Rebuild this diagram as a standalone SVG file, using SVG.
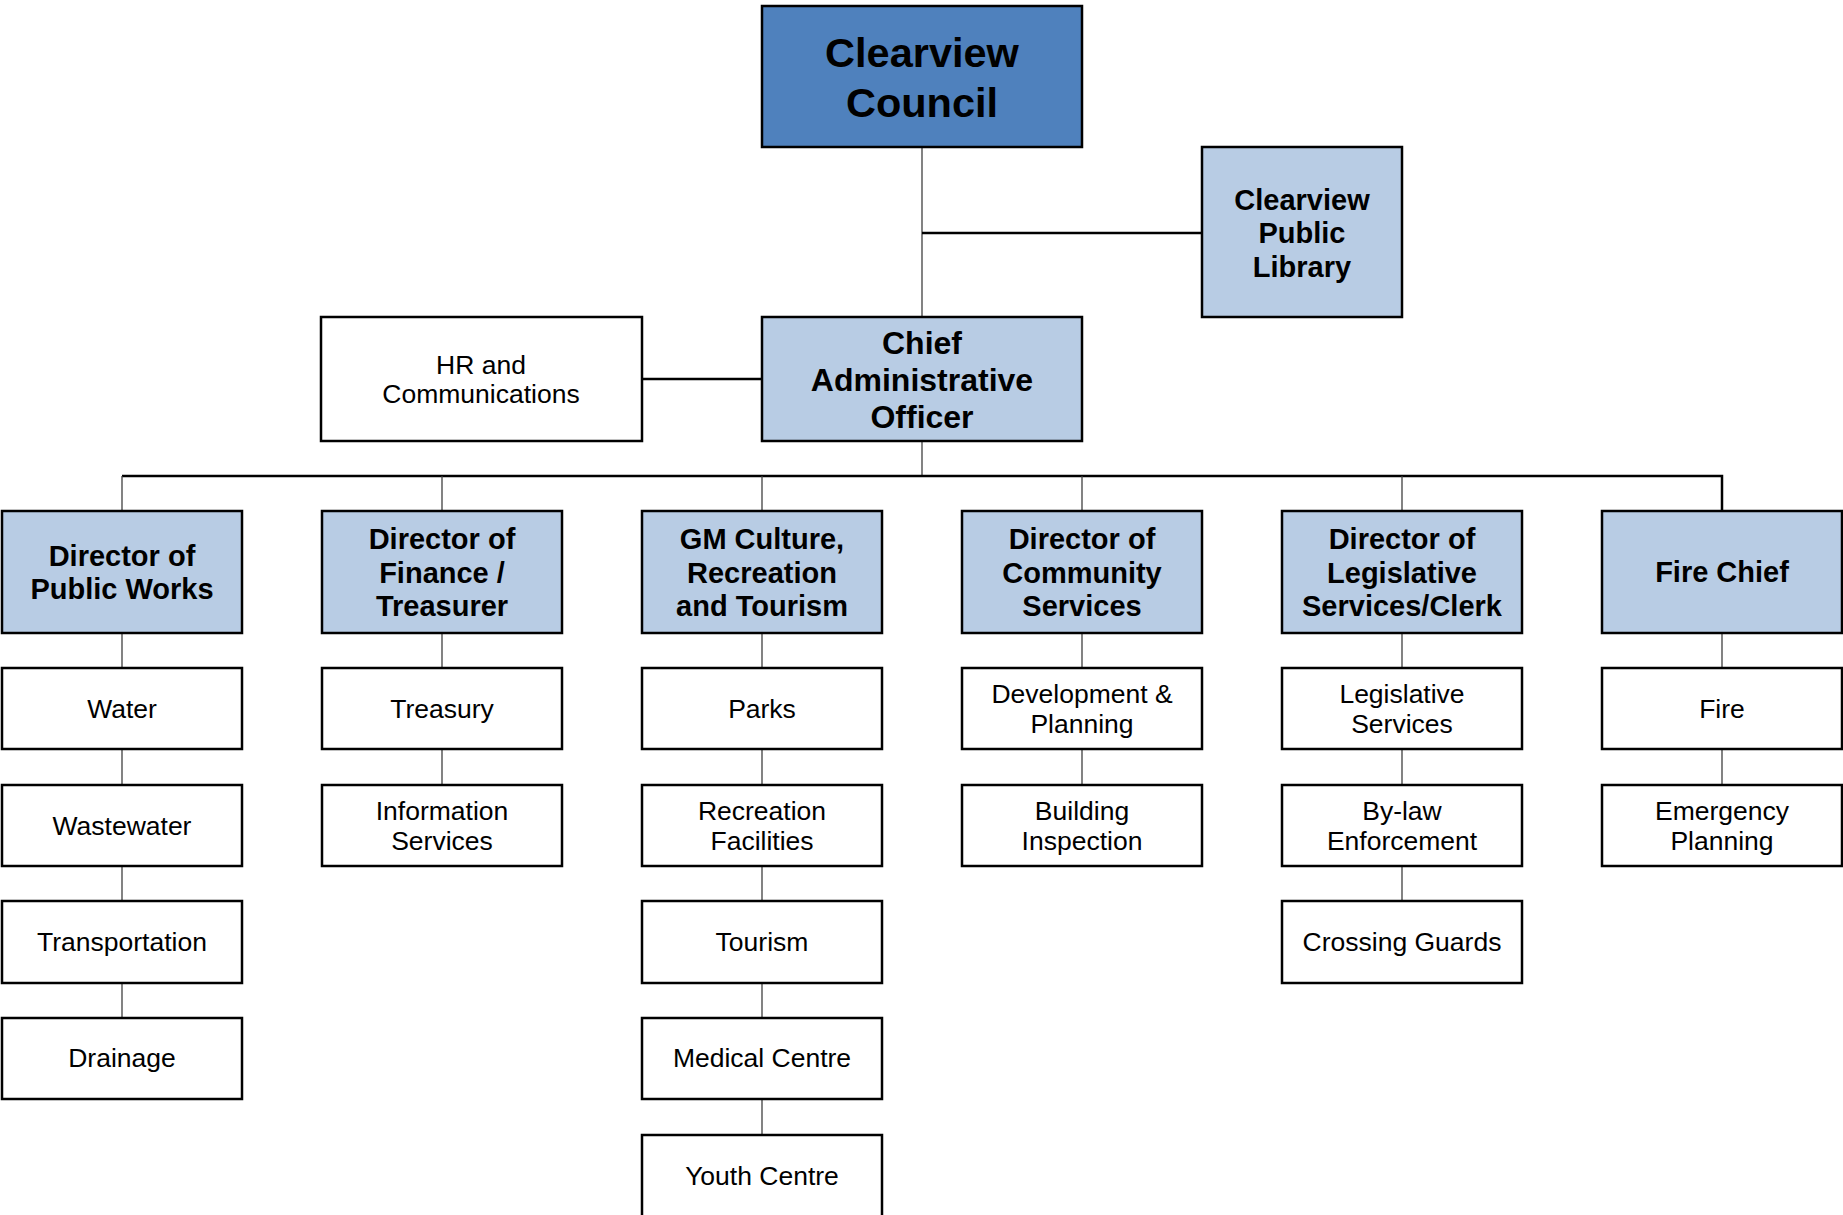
<svg xmlns="http://www.w3.org/2000/svg" width="1843" height="1215" viewBox="0 0 1843 1215">
<style>
  .box { stroke: #000; stroke-width: 2.5; }
  .dark { fill: #4F81BD; }
  .light { fill: #B8CCE4; }
  .plain { fill: #FFFFFF; }
  text { font-family: "Liberation Sans", Arial, sans-serif; fill: #000; text-anchor: middle; }
  .b { font-weight: bold; font-size: 29px; }
  .r { font-size: 26.5px; }
  .thin { stroke: #404040; stroke-width: 1.3; fill: none; }
  .thick { stroke: #000; stroke-width: 2.5; fill: none; }
</style>
<rect x="0" y="0" width="1843" height="1215" fill="#FFFFFF"/>
<g id="connectors">
  <line class="thin" x1="922" y1="147" x2="922" y2="317"/>
  <line class="thick" x1="922" y1="233" x2="1202" y2="233"/>
  <line class="thick" x1="642" y1="379" x2="762" y2="379"/>
  <line class="thin" x1="922" y1="441" x2="922" y2="476"/>
  <polyline class="thick" points="122,476 1722,476 1722,511"/>
  <line class="thin" x1="122" y1="476" x2="122" y2="511"/>
  <line class="thin" x1="442" y1="476" x2="442" y2="511"/>
  <line class="thin" x1="762" y1="476" x2="762" y2="511"/>
  <line class="thin" x1="1082" y1="476" x2="1082" y2="511"/>
  <line class="thin" x1="1402" y1="476" x2="1402" y2="511"/>
  <line class="thin" x1="122" y1="633" x2="122" y2="1018"/>
  <line class="thin" x1="442" y1="633" x2="442" y2="785"/>
  <line class="thin" x1="762" y1="633" x2="762" y2="1135"/>
  <line class="thin" x1="1082" y1="633" x2="1082" y2="785"/>
  <line class="thin" x1="1402" y1="633" x2="1402" y2="901"/>
  <line class="thin" x1="1722" y1="633" x2="1722" y2="785"/>
</g>
<g id="council">
  <rect class="box dark" x="762" y="6" width="320" height="141"/>
  <text x="922" y="67" font-size="41.5" font-weight="bold">Clearview</text>
  <text x="922" y="117" font-size="41.5" font-weight="bold">Council</text>
</g>
<g id="library">
  <rect class="box light" x="1202" y="147" width="200" height="170"/>
  <text class="b" x="1302" y="210">Clearview</text>
  <text class="b" x="1302" y="243">Public</text>
  <text class="b" x="1302" y="277">Library</text>
</g>
<g id="hr">
  <rect class="box plain" x="321" y="317" width="321" height="124"/>
  <text class="r" x="481" y="374">HR and</text>
  <text class="r" x="481" y="403">Communications</text>
</g>
<g id="cao">
  <rect class="box light" x="762" y="317" width="320" height="124"/>
  <text x="922" y="354" font-size="32" font-weight="bold">Chief</text>
  <text x="922" y="391" font-size="32" font-weight="bold">Administrative</text>
  <text x="922" y="428" font-size="32" font-weight="bold">Officer</text>
</g>
<g id="dir-public-works">
  <rect class="box light" x="2" y="511" width="240" height="122"/>
  <text class="b" x="122" y="566">Director of</text>
  <text class="b" x="122" y="599">Public Works</text>
</g>
<g id="dir-finance">
  <rect class="box light" x="322" y="511" width="240" height="122"/>
  <text class="b" x="442" y="549">Director of</text>
  <text class="b" x="442" y="583">Finance /</text>
  <text class="b" x="442" y="616">Treasurer</text>
</g>
<g id="gm-culture">
  <rect class="box light" x="642" y="511" width="240" height="122"/>
  <text class="b" x="762" y="549">GM Culture,</text>
  <text class="b" x="762" y="583">Recreation</text>
  <text class="b" x="762" y="616">and Tourism</text>
</g>
<g id="dir-community">
  <rect class="box light" x="962" y="511" width="240" height="122"/>
  <text class="b" x="1082" y="549">Director of</text>
  <text class="b" x="1082" y="583">Community</text>
  <text class="b" x="1082" y="616">Services</text>
</g>
<g id="dir-legislative">
  <rect class="box light" x="1282" y="511" width="240" height="122"/>
  <text class="b" x="1402" y="549">Director of</text>
  <text class="b" x="1402" y="583">Legislative</text>
  <text class="b" x="1402" y="616">Services/Clerk</text>
</g>
<g id="fire-chief">
  <rect class="box light" x="1602" y="511" width="240" height="122"/>
  <text class="b" x="1722" y="582">Fire Chief</text>
</g>
<g id="water">
  <rect class="box plain" x="2" y="668" width="240" height="81"/>
  <text class="r" x="122" y="718">Water</text>
</g>
<g id="wastewater">
  <rect class="box plain" x="2" y="785" width="240" height="81"/>
  <text class="r" x="122" y="835">Wastewater</text>
</g>
<g id="transportation">
  <rect class="box plain" x="2" y="901" width="240" height="82"/>
  <text class="r" x="122" y="951">Transportation</text>
</g>
<g id="drainage">
  <rect class="box plain" x="2" y="1018" width="240" height="81"/>
  <text class="r" x="122" y="1067">Drainage</text>
</g>
<g id="treasury">
  <rect class="box plain" x="322" y="668" width="240" height="81"/>
  <text class="r" x="442" y="718">Treasury</text>
</g>
<g id="information-services">
  <rect class="box plain" x="322" y="785" width="240" height="81"/>
  <text class="r" x="442" y="820">Information</text>
  <text class="r" x="442" y="850">Services</text>
</g>
<g id="parks">
  <rect class="box plain" x="642" y="668" width="240" height="81"/>
  <text class="r" x="762" y="718">Parks</text>
</g>
<g id="recreation-facilities">
  <rect class="box plain" x="642" y="785" width="240" height="81"/>
  <text class="r" x="762" y="820">Recreation</text>
  <text class="r" x="762" y="850">Facilities</text>
</g>
<g id="tourism">
  <rect class="box plain" x="642" y="901" width="240" height="82"/>
  <text class="r" x="762" y="951">Tourism</text>
</g>
<g id="medical-centre">
  <rect class="box plain" x="642" y="1018" width="240" height="81"/>
  <text class="r" x="762" y="1067">Medical Centre</text>
</g>
<g id="youth-centre">
  <rect class="box plain" x="642" y="1135" width="240" height="82"/>
  <text class="r" x="762" y="1185">Youth Centre</text>
</g>
<g id="development-planning">
  <rect class="box plain" x="962" y="668" width="240" height="81"/>
  <text class="r" x="1082" y="703">Development &amp;</text>
  <text class="r" x="1082" y="733">Planning</text>
</g>
<g id="building-inspection">
  <rect class="box plain" x="962" y="785" width="240" height="81"/>
  <text class="r" x="1082" y="820">Building</text>
  <text class="r" x="1082" y="850">Inspection</text>
</g>
<g id="legislative-services">
  <rect class="box plain" x="1282" y="668" width="240" height="81"/>
  <text class="r" x="1402" y="703">Legislative</text>
  <text class="r" x="1402" y="733">Services</text>
</g>
<g id="bylaw">
  <rect class="box plain" x="1282" y="785" width="240" height="81"/>
  <text class="r" x="1402" y="820">By-law</text>
  <text class="r" x="1402" y="850">Enforcement</text>
</g>
<g id="crossing-guards">
  <rect class="box plain" x="1282" y="901" width="240" height="82"/>
  <text class="r" x="1402" y="951">Crossing Guards</text>
</g>
<g id="fire">
  <rect class="box plain" x="1602" y="668" width="240" height="81"/>
  <text class="r" x="1722" y="718">Fire</text>
</g>
<g id="emergency-planning">
  <rect class="box plain" x="1602" y="785" width="240" height="81"/>
  <text class="r" x="1722" y="820">Emergency</text>
  <text class="r" x="1722" y="850">Planning</text>
</g>
</svg>
